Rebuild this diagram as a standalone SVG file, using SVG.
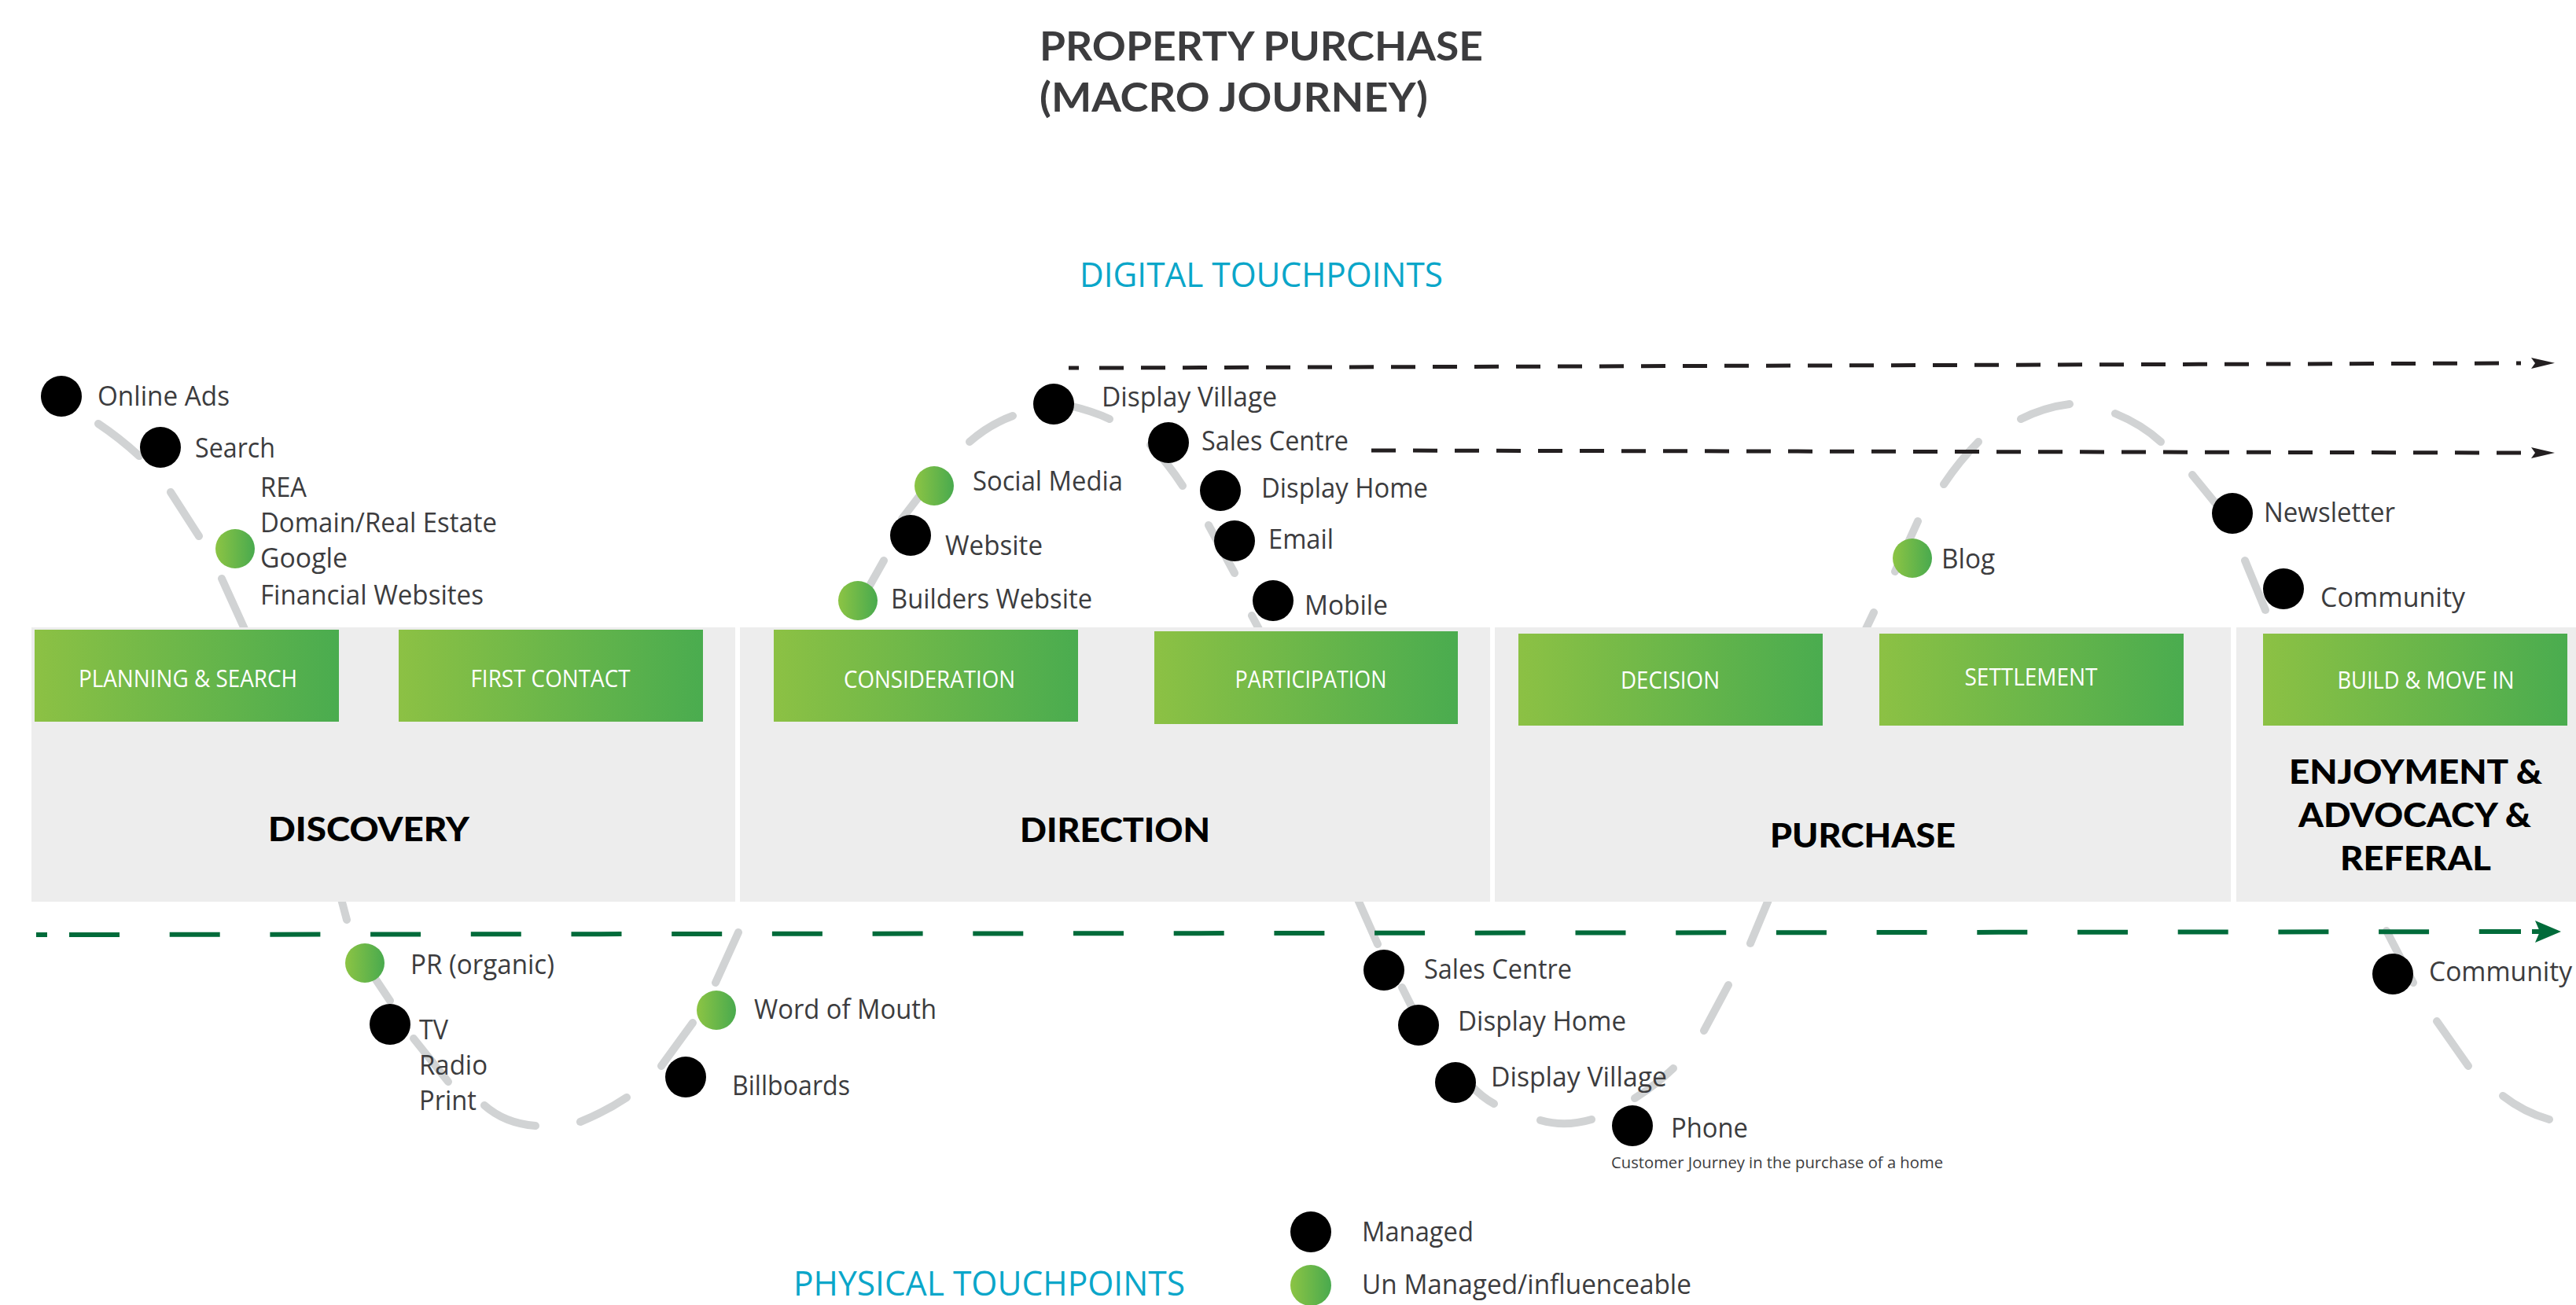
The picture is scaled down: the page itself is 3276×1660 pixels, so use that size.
<svg xmlns="http://www.w3.org/2000/svg" width="3276" height="1660" viewBox="0 0 3276 1660">
  <defs>
    <linearGradient id="stageFill" x1="0" y1="0" x2="1" y2="0">
      <stop offset="0" stop-color="#8cc144"/>
      <stop offset="1" stop-color="#4aac4f"/>
    </linearGradient>
    <linearGradient id="dotFill" x1="0" y1="0" x2="1" y2="0">
      <stop offset="0" stop-color="#8cc444"/>
      <stop offset="1" stop-color="#49aa4e"/>
    </linearGradient>
    <marker id="arrowBlack" markerUnits="userSpaceOnUse" markerWidth="50" markerHeight="20" refX="0" refY="10" orient="auto" viewBox="0 0 50 20">
      <path d="M13,3 L43,10 L13,17 L18,10 Z" fill="#231f20"/>
    </marker>
    <marker id="arrowGreen" markerUnits="userSpaceOnUse" markerWidth="56" markerHeight="32" refX="0" refY="16" orient="auto" viewBox="0 0 56 32">
      <rect x="14" y="13" width="10" height="6" fill="#006b3a"/>
      <path d="M18,2 L51,16 L18,30 L24,16 Z" fill="#006b3a"/>
    </marker>
    <style>
      .panel { fill: #ededed; }
      .stage { fill: url(#stageFill); }
      .stage-text { font-family: "Open Sans", "Liberation Sans", sans-serif; font-size: 31px; fill: #ffffff; text-anchor: middle; }
      .phase { font-family: "Lato", "Liberation Sans", sans-serif; font-weight: 900; font-size: 42px; fill: #000000; text-anchor: middle; }
      .title { font-family: "Lato", "Liberation Sans", sans-serif; font-weight: 700; font-size: 51px; fill: #3c3c3e; }
      .channel { font-family: "Open Sans", "Liberation Sans", sans-serif; font-size: 43px; fill: #0aa6c9; }
      .lbl { font-family: "Open Sans", "Liberation Sans", sans-serif; font-size: 35px; fill: #3c3c3e; }
      .caption { font-family: "Open Sans", "Liberation Sans", sans-serif; font-size: 20px; fill: #3c3c3e; }
      .managed { fill: #000000; }
      .unmanaged { fill: url(#dotFill); }
      .journey { fill: none; stroke: #d1d3d4; stroke-width: 10; stroke-linecap: round; }
      .flow-black { fill: none; stroke: #231f20; stroke-width: 5; stroke-dasharray: 31 22; }
      .flow-green { fill: none; stroke: #006b3a; stroke-width: 6; stroke-dasharray: 64 63.7; }
      .stub-black { fill: none; stroke: #231f20; stroke-width: 5; }
      .stub-green { fill: none; stroke: #006b3a; stroke-width: 6; }
    </style>
  </defs>

  <rect width="3276" height="1660" fill="#ffffff"/>

  <!-- Title -->
  <g id="title">
    <text class="title" x="1322" y="77" textLength="564" lengthAdjust="spacingAndGlyphs">PROPERTY PURCHASE</text>
    <text class="title" x="1322" y="142" textLength="494" lengthAdjust="spacingAndGlyphs">(MACRO JOURNEY)</text>
  </g>

  <g id="digital-touchpoints">
    <text class="channel" x="1373" y="365" textLength="462" lengthAdjust="spacingAndGlyphs">DIGITAL TOUCHPOINTS</text>
  </g>
  <g id="physical-touchpoints">
    <text class="channel" x="1009" y="1648" textLength="498" lengthAdjust="spacingAndGlyphs">PHYSICAL TOUCHPOINTS</text>
  </g>

  <!-- Customer journey wave (drawn beneath the phase panels) -->
  <g id="connectors">
    <path id="journey-wave" class="journey" d="
      M125,539 Q152,557 177,580
      M217,626 L253,682
      M282,736 L311,800
      M433,1140 L441,1170
      M478,1246 L496,1273
      M526,1321 L570,1376
      M616,1406 Q642,1429 681,1432
      M738,1427 Q770,1414 797,1396
      M841,1356 L881,1301
      M910,1250 L939,1186
      M1093,768 L1124,713
      M1147,660 L1170,630
      M1233,562 Q1258,540 1288,529
      M1360,516 Q1390,523 1411,533
      M1463,566 Q1486,590 1504,618
      M1537,668 L1570,729
      M1592,783 L1602,802
      M1725,1140 L1752,1201
      M1783,1256 L1800,1290
      M1870,1380 Q1885,1396 1900,1404
      M1959,1425 Q1990,1434 2024,1424
      M2079,1397 Q2106,1380 2128,1359
      M2167,1311 L2198,1253
      M2226,1200 L2251,1140
      M2372,802 L2383,779
      M2410,727 L2439,663
      M2472,616 Q2492,586 2516,562
      M2570,533 Q2600,518 2632,514
      M2690,526 Q2724,540 2748,562
      M2788,604 L2819,642
      M2855,713 L2881,776
      M3035,1184 L3069,1250
      M3099,1299 L3139,1356
      M3183,1394 Q3210,1415 3242,1424"/>
  </g>

  <!-- Phase panels -->
  <g id="phase-discovery">
    <rect class="panel" x="40" y="798" width="895" height="349"/>
    <text class="phase" x="469" y="1070" textLength="256" lengthAdjust="spacingAndGlyphs">DISCOVERY</text>
  </g>
  <g id="phase-direction">
    <rect class="panel" x="941" y="798" width="954" height="349"/>
    <text class="phase" x="1418" y="1071" textLength="242" lengthAdjust="spacingAndGlyphs">DIRECTION</text>
  </g>
  <g id="phase-purchase">
    <rect class="panel" x="1901" y="798" width="936" height="349"/>
    <text class="phase" x="2369" y="1078" textLength="236" lengthAdjust="spacingAndGlyphs">PURCHASE</text>
  </g>
  <g id="phase-enjoyment">
    <rect class="panel" x="2844" y="798" width="432" height="349"/>
    <text class="phase" x="3072" y="997" textLength="322" lengthAdjust="spacingAndGlyphs">ENJOYMENT &amp;</text>
    <text class="phase" x="3071" y="1052" textLength="296" lengthAdjust="spacingAndGlyphs">ADVOCACY &amp;</text>
    <text class="phase" x="3072" y="1107" textLength="192" lengthAdjust="spacingAndGlyphs">REFERAL</text>
  </g>

  <!-- Stages -->
  <g id="stage-planning">
    <rect class="stage" x="44" y="801" width="387" height="117"/>
    <text class="stage-text" x="239" y="874" textLength="278" lengthAdjust="spacingAndGlyphs">PLANNING &amp; SEARCH</text>
  </g>
  <g id="stage-first-contact">
    <rect class="stage" x="507" y="801" width="387" height="117"/>
    <text class="stage-text" x="700" y="874" textLength="203" lengthAdjust="spacingAndGlyphs">FIRST CONTACT</text>
  </g>
  <g id="stage-consideration">
    <rect class="stage" x="984" y="801" width="387" height="117"/>
    <text class="stage-text" x="1182" y="875" textLength="218" lengthAdjust="spacingAndGlyphs">CONSIDERATION</text>
  </g>
  <g id="stage-participation">
    <rect class="stage" x="1468" y="803" width="386" height="118"/>
    <text class="stage-text" x="1667" y="875" textLength="193" lengthAdjust="spacingAndGlyphs">PARTICIPATION</text>
  </g>
  <g id="stage-decision">
    <rect class="stage" x="1931" y="806" width="387" height="117"/>
    <text class="stage-text" x="2124" y="876" textLength="126" lengthAdjust="spacingAndGlyphs">DECISION</text>
  </g>
  <g id="stage-settlement">
    <rect class="stage" x="2390" y="806" width="387" height="117"/>
    <text class="stage-text" x="2583" y="872" textLength="169" lengthAdjust="spacingAndGlyphs">SETTLEMENT</text>
  </g>
  <g id="stage-build">
    <rect class="stage" x="2878" y="806" width="387" height="117"/>
    <text class="stage-text" x="3085" y="876" textLength="225" lengthAdjust="spacingAndGlyphs">BUILD &amp; MOVE IN</text>
  </g>

  <!-- Ongoing channel flows -->
  <g id="flows">
    <path class="stub-black" d="M1359,468 L1372,468"/>
    <path class="flow-black" d="M1398,468 L3206,462" marker-end="url(#arrowBlack)"/>
    <path class="flow-black" d="M1744,573 L3206,576" marker-end="url(#arrowBlack)"/>
    <path class="stub-green" d="M46,1189 L60,1189"/>
    <path class="flow-green" d="M88,1189 L3206,1185" marker-end="url(#arrowGreen)"/>
  </g>

  <!-- Touchpoints -->
  <g id="tp-online-ads">
    <circle class="managed" cx="78" cy="504" r="26"/>
    <text class="lbl" x="124" y="516" textLength="168" lengthAdjust="spacingAndGlyphs">Online Ads</text>
  </g>
  <g id="tp-search">
    <circle class="managed" cx="204" cy="569" r="26"/>
    <text class="lbl" x="248" y="582" textLength="102" lengthAdjust="spacingAndGlyphs">Search</text>
  </g>
  <g id="tp-websites">
    <circle class="unmanaged" cx="299" cy="698" r="25"/>
    <text class="lbl" x="331" y="632" textLength="59" lengthAdjust="spacingAndGlyphs">REA</text>
    <text class="lbl" x="331" y="677" textLength="301" lengthAdjust="spacingAndGlyphs">Domain/Real Estate</text>
    <text class="lbl" x="331" y="722" textLength="111" lengthAdjust="spacingAndGlyphs">Google</text>
    <text class="lbl" x="331" y="769" textLength="284" lengthAdjust="spacingAndGlyphs">Financial Websites</text>
  </g>
  <g id="tp-pr">
    <circle class="unmanaged" cx="464" cy="1225" r="25"/>
    <text class="lbl" x="522" y="1239" textLength="183" lengthAdjust="spacingAndGlyphs">PR (organic)</text>
  </g>
  <g id="tp-media">
    <circle class="managed" cx="496" cy="1303" r="26"/>
    <text class="lbl" x="533" y="1322" textLength="37" lengthAdjust="spacingAndGlyphs">TV</text>
    <text class="lbl" x="533" y="1367" textLength="87" lengthAdjust="spacingAndGlyphs">Radio</text>
    <text class="lbl" x="533" y="1412" textLength="73" lengthAdjust="spacingAndGlyphs">Print</text>
  </g>
  <g id="tp-word-of-mouth">
    <circle class="unmanaged" cx="911" cy="1285" r="25"/>
    <text class="lbl" x="959" y="1296" textLength="232" lengthAdjust="spacingAndGlyphs">Word of Mouth</text>
  </g>
  <g id="tp-billboards">
    <circle class="managed" cx="872" cy="1370" r="26"/>
    <text class="lbl" x="931" y="1393" textLength="150" lengthAdjust="spacingAndGlyphs">Billboards</text>
  </g>
  <g id="tp-builders-website">
    <circle class="unmanaged" cx="1091" cy="764" r="25"/>
    <text class="lbl" x="1133" y="774" textLength="256" lengthAdjust="spacingAndGlyphs">Builders Website</text>
  </g>
  <g id="tp-website">
    <circle class="managed" cx="1158" cy="681" r="26"/>
    <text class="lbl" x="1202" y="706" textLength="124" lengthAdjust="spacingAndGlyphs">Website</text>
  </g>
  <g id="tp-social-media">
    <circle class="unmanaged" cx="1188" cy="618" r="25"/>
    <text class="lbl" x="1237" y="624" textLength="191" lengthAdjust="spacingAndGlyphs">Social Media</text>
  </g>
  <g id="tp-display-village-digital">
    <circle class="managed" cx="1340" cy="514" r="26"/>
    <text class="lbl" x="1401" y="517" textLength="223" lengthAdjust="spacingAndGlyphs">Display Village</text>
  </g>
  <g id="tp-sales-centre-digital">
    <circle class="managed" cx="1486" cy="563" r="26"/>
    <text class="lbl" x="1528" y="573" textLength="187" lengthAdjust="spacingAndGlyphs">Sales Centre</text>
  </g>
  <g id="tp-display-home-digital">
    <circle class="managed" cx="1552" cy="624" r="26"/>
    <text class="lbl" x="1604" y="633" textLength="212" lengthAdjust="spacingAndGlyphs">Display Home</text>
  </g>
  <g id="tp-email">
    <circle class="managed" cx="1570" cy="688" r="26"/>
    <text class="lbl" x="1613" y="698" textLength="83" lengthAdjust="spacingAndGlyphs">Email</text>
  </g>
  <g id="tp-mobile">
    <circle class="managed" cx="1619" cy="764" r="26"/>
    <text class="lbl" x="1659" y="782" textLength="106" lengthAdjust="spacingAndGlyphs">Mobile</text>
  </g>
  <g id="tp-sales-centre">
    <circle class="managed" cx="1760" cy="1234" r="26"/>
    <text class="lbl" x="1811" y="1245" textLength="188" lengthAdjust="spacingAndGlyphs">Sales Centre</text>
  </g>
  <g id="tp-display-home">
    <circle class="managed" cx="1804" cy="1304" r="26"/>
    <text class="lbl" x="1854" y="1311" textLength="214" lengthAdjust="spacingAndGlyphs">Display Home</text>
  </g>
  <g id="tp-display-village">
    <circle class="managed" cx="1851" cy="1377" r="26"/>
    <text class="lbl" x="1896" y="1382" textLength="224" lengthAdjust="spacingAndGlyphs">Display Village</text>
  </g>
  <g id="tp-phone">
    <circle class="managed" cx="2076" cy="1432" r="26"/>
    <text class="lbl" x="2125" y="1447" textLength="98" lengthAdjust="spacingAndGlyphs">Phone</text>
  </g>
  <g id="tp-blog">
    <circle class="unmanaged" cx="2432" cy="710" r="25"/>
    <text class="lbl" x="2469" y="723" textLength="68" lengthAdjust="spacingAndGlyphs">Blog</text>
  </g>
  <g id="tp-newsletter">
    <circle class="managed" cx="2839" cy="653" r="26"/>
    <text class="lbl" x="2879" y="664" textLength="167" lengthAdjust="spacingAndGlyphs">Newsletter</text>
  </g>
  <g id="tp-community-digital">
    <circle class="managed" cx="2904" cy="749" r="26"/>
    <text class="lbl" x="2951" y="772" textLength="184" lengthAdjust="spacingAndGlyphs">Community</text>
  </g>
  <g id="tp-community">
    <circle class="managed" cx="3043" cy="1239" r="26"/>
    <text class="lbl" x="3089" y="1248" textLength="182" lengthAdjust="spacingAndGlyphs">Community</text>
  </g>

  <g id="caption">
    <text class="caption" x="2049" y="1486" textLength="422" lengthAdjust="spacingAndGlyphs">Customer Journey in the purchase of a home</text>
  </g>

  <!-- Legend -->
  <g id="legend-managed">
    <circle class="managed" cx="1667" cy="1567" r="26"/>
    <text class="lbl" x="1732" y="1579" textLength="142" lengthAdjust="spacingAndGlyphs">Managed</text>
  </g>
  <g id="legend-unmanaged">
    <circle class="unmanaged" cx="1667" cy="1635" r="26"/>
    <text class="lbl" x="1732" y="1646" textLength="419" lengthAdjust="spacingAndGlyphs">Un Managed/influenceable</text>
  </g>
</svg>
